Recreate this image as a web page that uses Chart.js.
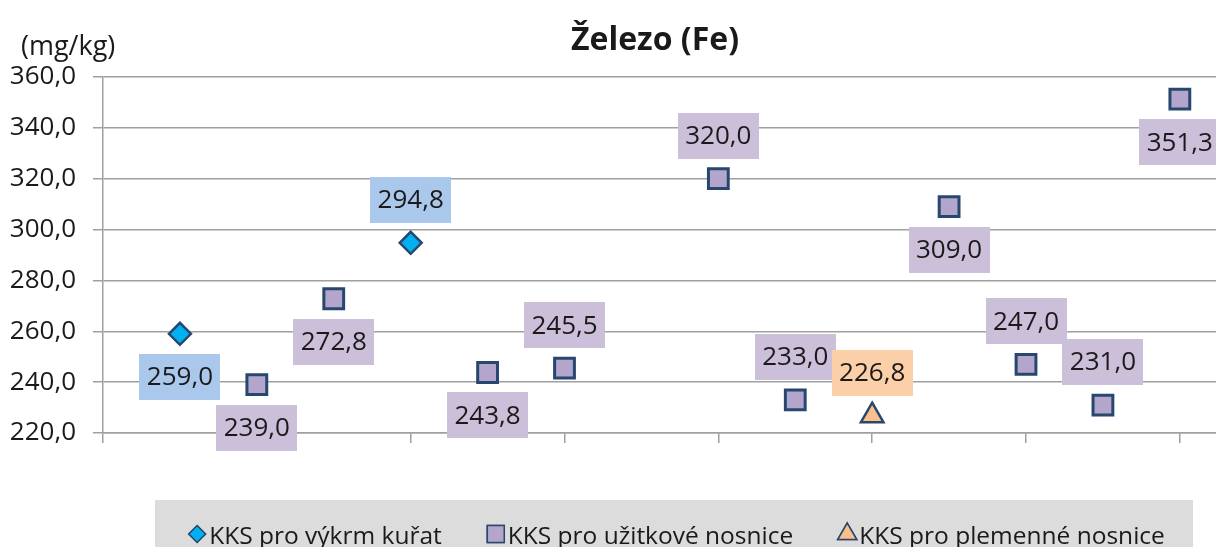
<!DOCTYPE html>
<html lang="cs">
<head>
<meta charset="utf-8">
<title>Železo (Fe)</title>
<script src="https://cdn.jsdelivr.net/npm/chart.js@4.4.1/dist/chart.umd.min.js"></script>
<style>
  html, body { margin: 0; padding: 0; background: #fff; overflow: hidden; }
  canvas { display: block; }
</style>
</head>
<body>
<canvas id="fe-chart" width="1216" height="547"></canvas>
<script>
// Železo (Fe), mg/kg – tři skupiny krmných směsí
const seriesNames = ['KKS pro výkrm kuřat', 'KKS pro užitkové nosnice', 'KKS pro plemenné nosnice'];

const kurataX = [1, 4];
const kurataY = [259.0, 294.8];
const kurataLabelPos = ['below', 'above'];

const uzitkoveX = [2, 3, 5, 6, 8, 9, 11, 12, 13, 14];
const uzitkoveY = [239.0, 272.8, 243.8, 245.5, 320.0, 233.0, 309.0, 247.0, 231.0, 351.3];
const uzitkoveLabelPos = ['below', 'below', 'below', 'above', 'above', 'above', 'below', 'above', 'above', 'below'];

const plemenneX = [10];
const plemenneY = [226.8];
const plemenneLabelPos = ['above'];

const xTicks = [0, 2, 4, 6, 8, 10, 12, 14];
const yMin = 220, yMax = 360, yStep = 20;

const FONT = '"Open Sans", "Noto Sans", sans-serif';
const TEXT = '#1a1a1a';
const GRID = '#a0a0a0';
const EDGE = '#28476f';

const fmt = (v) => v.toFixed(1).replace('.', ',');
const points = (xs, ys) => xs.map((x, i) => ({ x, y: ys[i] }));

// value boxes next to each marker
const labelBoxes = {
  id: 'labelBoxes',
  afterDatasetsDraw(chart) {
    const { ctx } = chart;
    ctx.save();
    ctx.font = `26px ${FONT}`;
    ctx.textAlign = 'center';
    ctx.textBaseline = 'middle';
    chart.data.datasets.forEach((ds, i) => {
      chart.getDatasetMeta(i).data.forEach((pt, j) => {
        const cy = pt.y + (ds.labelPos[j] === 'above' ? -43 : 43);
        ctx.fillStyle = ds.labelBg;
        ctx.fillRect(Math.round(pt.x - 40.5), Math.round(cy - 23), 81, 46);
        ctx.fillStyle = TEXT;
        ctx.fillText(fmt(ds.data[j].y), pt.x, cy + 1);
      });
    });
    ctx.restore();
  }
};

// title, unit and the grey legend strip at the bottom
const frame = {
  id: 'frame',
  afterDraw(chart) {
    const { ctx } = chart;
    ctx.save();
    ctx.fillStyle = TEXT;
    ctx.textBaseline = 'alphabetic';
    ctx.textAlign = 'center';
    ctx.font = `bold 32px ${FONT}`;
    ctx.fillText('Železo (Fe)', 655, 50);
    ctx.textAlign = 'left';
    ctx.font = `27px ${FONT}`;
    ctx.fillText('(mg/kg)', 21, 55);

    ctx.fillStyle = '#dcdcdc';
    ctx.fillRect(155, 500, 1038, 60);

    ctx.font = `24.5px ${FONT}`;
    const gap = 46, markW = 20;
    const widths = seriesNames.map((n) => ctx.measureText(n).width);
    const total = widths.reduce((a, w) => a + markW + w, 0) + gap * (widths.length - 1);
    let x = 677 - total / 2;
    chart.data.datasets.forEach((ds, i) => {
      Chart.helpers.drawPoint(ctx, {
        pointStyle: ds.pointStyle,
        radius: ds.legendRadius,
        borderWidth: 1.5,
        rotation: 0
      }, x + 8, 534);
      ctx.fillStyle = ds.backgroundColor;
      ctx.strokeStyle = ds.borderColor;
      ctx.lineWidth = 1.5;
      ctx.fill();
      ctx.stroke();
      ctx.fillStyle = TEXT;
      ctx.fillText(seriesNames[i], x + markW, 544);
      x += markW + widths[i] + gap;
    });
    ctx.restore();
  }
};

new Chart(document.getElementById('fe-chart'), {
  type: 'scatter',
  data: {
    datasets: [
      {
        label: seriesNames[0], data: points(kurataX, kurataY), labelPos: kurataLabelPos,
        pointStyle: 'rectRot', pointRadius: 11, legendRadius: 8.5, pointBorderWidth: 2.5,
        backgroundColor: '#00b0f0', borderColor: EDGE, labelBg: '#aac7ec'
      },
      {
        label: seriesNames[1], data: points(uzitkoveX, uzitkoveY), labelPos: uzitkoveLabelPos,
        pointStyle: 'rect', pointRadius: 14, legendRadius: 12, pointBorderWidth: 3,
        backgroundColor: '#b4a5cd', borderColor: EDGE, labelBg: '#cbbfda'
      },
      {
        label: seriesNames[2], data: points(plemenneX, plemenneY), labelPos: plemenneLabelPos,
        pointStyle: 'triangle', pointRadius: 13, legendRadius: 11, pointBorderWidth: 2.5,
        backgroundColor: '#fbbf8c', borderColor: EDGE, labelBg: '#fbcfa8'
      }
    ]
  },
  options: {
    responsive: false,
    animation: false,
    events: [],
    layout: { autoPadding: false, padding: { top: 77, left: 0, right: 0, bottom: 0 } },
    plugins: { legend: { display: false }, title: { display: false }, tooltip: { enabled: false } },
    scales: {
      x: {
        type: 'linear', min: 0, max: 14.47,
        afterBuildTicks: (s) => { s.ticks = xTicks.map((v) => ({ value: v })); },
        afterFit: (s) => { s.height = 114; },
        ticks: { display: false },
        grid: { drawOnChartArea: false, drawTicks: true, tickLength: 10, color: GRID, lineWidth: 1.5 },
        border: { color: GRID, width: 1.5 }
      },
      y: {
        min: yMin, max: yMax,
        afterFit: (s) => { s.width = 103; },
        ticks: { stepSize: yStep, callback: (v) => fmt(v), font: { family: FONT, size: 26 }, color: TEXT, padding: 17 },
        grid: { color: GRID, lineWidth: 1.5, tickLength: 10 },
        border: { color: GRID, width: 1.5 }
      }
    }
  },
  plugins: [labelBoxes, frame]
});
</script>
</body>
</html>
